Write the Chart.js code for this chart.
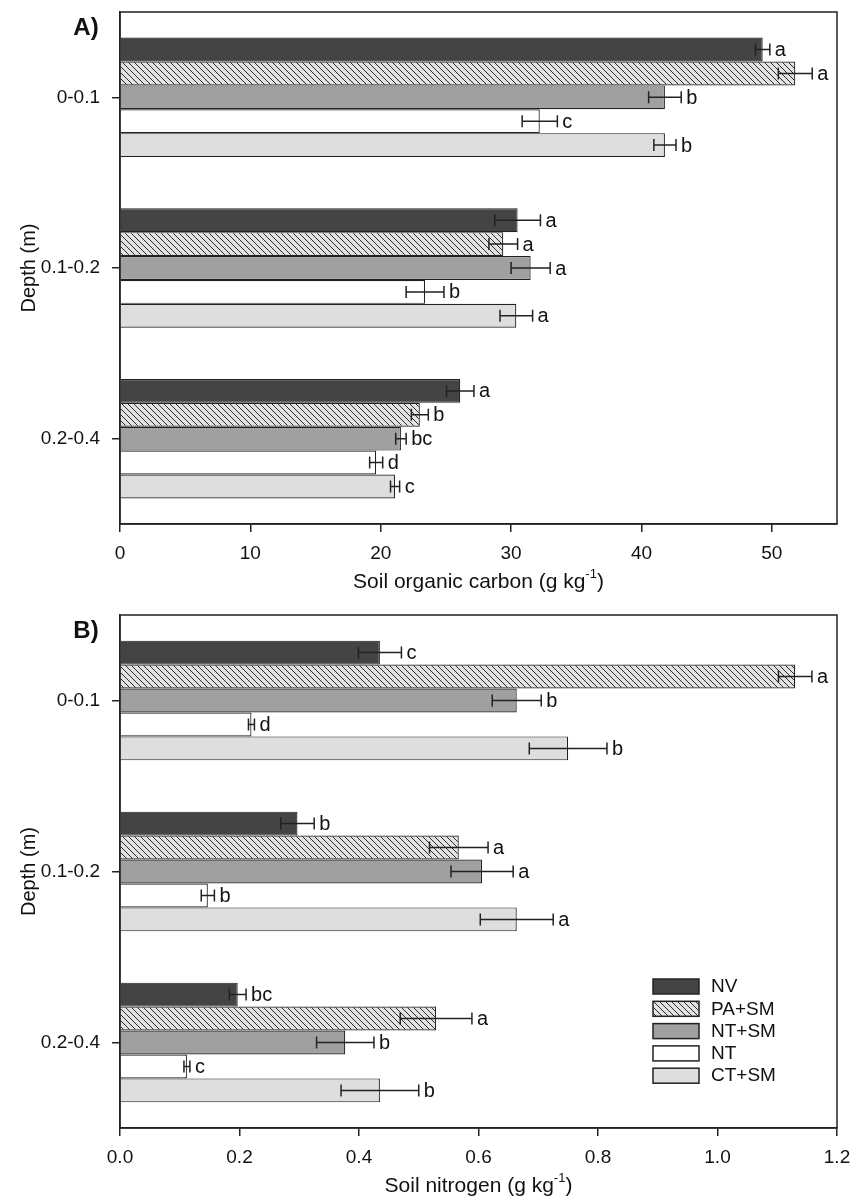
<!DOCTYPE html>
<html>
<head>
<meta charset="utf-8">
<script src="https://cdn.jsdelivr.net/npm/chart.js@4.4.1/dist/chart.umd.min.js"></script>
<style>
  body { margin: 0; background: #fff; }
  #wrap { position: relative; width: 862px; height: 1201px; }
  canvas { position: absolute; left: 0; display: block; }
</style>
</head>
<body>
<div id="wrap">
  <canvas id="chartA" width="862" height="600" style="top:0"></canvas>
  <canvas id="chartB" width="862" height="601" style="top:600px"></canvas>
</div>
<script>
const depths = ["0-0.1", "0.1-0.2", "0.2-0.4"];
const treatments = ["NV", "PA+SM", "NT+SM", "NT", "CT+SM"];

// A) soil organic carbon, g kg-1
const carbonNV = [49.3, 30.5, 26.1];
const carbonPASM = [51.8, 29.4, 23.0];
const carbonNTSM = [41.8, 31.5, 21.55];
const carbonNT = [32.2, 23.4, 19.65];
const carbonCTSM = [41.8, 30.4, 21.1];

const carbonNVErr = [0.55, 1.75, 1.05];
const carbonPASMErr = [1.3, 1.1, 0.65];
const carbonNTSMErr = [1.25, 1.5, 0.4];
const carbonNTErr = [1.35, 1.45, 0.5];
const carbonCTSMErr = [0.85, 1.25, 0.35];

const carbonNVLetters = ["a", "a", "a"];
const carbonPASMLetters = ["a", "a", "b"];
const carbonNTSMLetters = ["b", "a", "bc"];
const carbonNTLetters = ["c", "b", "d"];
const carbonCTSMLetters = ["b", "a", "c"];

// B) soil nitrogen, g kg-1
const nitrogenNV = [0.435, 0.297, 0.197];
const nitrogenPASM = [1.13, 0.567, 0.529];
const nitrogenNTSM = [0.664, 0.606, 0.377];
const nitrogenNT = [0.22, 0.147, 0.112];
const nitrogenCTSM = [0.75, 0.664, 0.435];

const nitrogenNVErr = [0.036, 0.028, 0.014];
const nitrogenPASMErr = [0.028, 0.049, 0.06];
const nitrogenNTSMErr = [0.041, 0.052, 0.048];
const nitrogenNTErr = [0.005, 0.011, 0.005];
const nitrogenCTSMErr = [0.065, 0.061, 0.065];

const nitrogenNVLetters = ["c", "b", "bc"];
const nitrogenPASMLetters = ["a", "a", "a"];
const nitrogenNTSMLetters = ["b", "a", "b"];
const nitrogenNTLetters = ["d", "b", "c"];
const nitrogenCTSMLetters = ["b", "a", "b"];

const carbonTicks = [0, 10, 20, 30, 40, 50];
const nitrogenTicks = [0, 0.2, 0.4, 0.6, 0.8, 1.0, 1.2];

const fontFamily = '"Liberation Sans", Arial, sans-serif';
const ink = "#222";

function hatchPattern() {
  const tile = document.createElement("canvas");
  tile.width = 6;
  tile.height = 6;
  const g = tile.getContext("2d");
  g.fillStyle = "#e2e2e2";
  g.fillRect(0, 0, 6, 6);
  g.strokeStyle = "#2a2a2a";
  g.lineWidth = 1;
  g.beginPath();
  g.moveTo(-1, -1); g.lineTo(7, 7);
  g.moveTo(-1, 5); g.lineTo(1, 7);
  g.moveTo(5, -1); g.lineTo(7, 1);
  g.stroke();
  return g.createPattern(tile, "repeat");
}

const fills = ["#444444", hatchPattern(), "#a0a0a0", "#ffffff", "#dedede"];

function makeDatasets(series) {
  return series.map((values, i) => ({
    label: treatments[i],
    data: values,
    backgroundColor: fills[i],
    borderColor: ink,
    borderWidth: 1.2,
    categoryPercentage: 0.7,
    barPercentage: 1.0
  }));
}

function drawUnitTitle(ctx, base, cx, cy) {
  const main = "21px " + fontFamily;
  const sup = "13px " + fontFamily;
  const part1 = base + " (g kg";
  ctx.font = main;
  const w1 = ctx.measureText(part1).width;
  const w3 = ctx.measureText(")").width;
  ctx.font = sup;
  const w2 = ctx.measureText("-1").width;
  let x = cx - (w1 + w2 + w3) / 2;
  ctx.textAlign = "left";
  ctx.textBaseline = "middle";
  ctx.font = main;
  ctx.fillText(part1, x, cy);
  x += w1;
  ctx.font = sup;
  ctx.fillText("-1", x, cy - 8);
  x += w2;
  ctx.font = main;
  ctx.fillText(")", x, cy);
}

// frame, error bars, letters, titles and legend
function makeExtras(cfg) {
  return {
    id: "extras" + cfg.panel,
    afterDatasetsDraw(chart) {
      const ctx = chart.ctx;
      const xs = chart.scales.x;
      const area = chart.chartArea;
      ctx.save();
      ctx.strokeStyle = ink;
      ctx.lineWidth = 1.5;
      ctx.strokeRect(area.left, area.top, area.right - area.left, area.bottom - area.top);

      ctx.fillStyle = "#111";
      ctx.font = "20px " + fontFamily;
      ctx.textAlign = "left";
      ctx.textBaseline = "middle";
      chart.data.datasets.forEach((ds, i) => {
        const meta = chart.getDatasetMeta(i);
        meta.data.forEach((bar, j) => {
          const v = ds.data[j];
          const e = cfg.errors[i][j];
          const x1 = xs.getPixelForValue(v - e);
          const x2 = xs.getPixelForValue(v + e);
          const y = bar.y;
          ctx.lineWidth = 1.5;
          ctx.beginPath();
          ctx.moveTo(x1, y); ctx.lineTo(x2, y);
          ctx.moveTo(x1, y - 6); ctx.lineTo(x1, y + 6);
          ctx.moveTo(x2, y - 6); ctx.lineTo(x2, y + 6);
          ctx.stroke();
          ctx.fillText(cfg.letters[i][j], x2 + 5, y + 1);
        });
      });
      ctx.restore();
    },
    afterDraw(chart) {
      const ctx = chart.ctx;
      const area = chart.chartArea;
      ctx.save();
      ctx.fillStyle = "#111";

      // panel label
      ctx.font = "bold 24px " + fontFamily;
      ctx.textAlign = "center";
      ctx.textBaseline = "middle";
      ctx.fillText(cfg.panel + ")", 86, area.top + 16);

      // y title
      ctx.save();
      ctx.translate(29, (area.top + area.bottom) / 2);
      ctx.rotate(-Math.PI / 2);
      ctx.font = "20px " + fontFamily;
      ctx.fillText("Depth (m)", 0, 0);
      ctx.restore();

      // x title
      drawUnitTitle(ctx, cfg.xTitle, (area.left + area.right) / 2, area.bottom + 58);

      if (cfg.legend) {
        const lx = area.right - 184;
        const ly = area.bottom - 149;
        ctx.font = "19px " + fontFamily;
        ctx.textAlign = "left";
        chart.data.datasets.forEach((ds, i) => {
          const y = ly + i * 22.3;
          ctx.fillStyle = ds.backgroundColor;
          ctx.fillRect(lx, y, 46, 15);
          ctx.strokeStyle = ink;
          ctx.lineWidth = 1.5;
          ctx.strokeRect(lx, y, 46, 15);
          ctx.fillStyle = "#111";
          ctx.fillText(ds.label, lx + 58, y + 8);
        });
      }
      ctx.restore();
    }
  };
}

function makeOptions(xMax, ticks, fmt, topPad, axisHeight) {
  return {
    indexAxis: "y",
    responsive: false,
    maintainAspectRatio: false,
    animation: false,
    layout: { padding: { top: topPad, right: 25, left: 0, bottom: 0 } },
    plugins: { legend: { display: false }, tooltip: { enabled: false } },
    scales: {
      x: {
        type: "linear",
        min: 0,
        max: xMax,
        afterBuildTicks(scale) {
          scale.ticks = ticks.map((v) => ({ value: v }));
        },
        afterFit(scale) {
          scale.height = axisHeight;
          scale.paddingLeft = 0;
          scale.paddingRight = 0;
        },
        ticks: {
          color: "#111",
          font: { family: fontFamily, size: 19 },
          padding: 10,
          maxRotation: 0,
          callback: fmt
        },
        grid: { drawOnChartArea: false, drawTicks: true, tickLength: 8, color: ink, lineWidth: 1.5 },
        border: { color: ink, width: 1.5 }
      },
      y: {
        type: "category",
        afterFit(scale) {
          scale.width = 120;
          scale.paddingTop = 0;
          scale.paddingBottom = 0;
        },
        ticks: { color: "#111", font: { family: fontFamily, size: 19 }, padding: 12 },
        grid: { drawOnChartArea: false, drawTicks: true, tickLength: 8, offset: false, color: ink, lineWidth: 1.5 },
        border: { color: ink, width: 1.5 }
      }
    }
  };
}

new Chart(document.getElementById("chartA"), {
  type: "bar",
  data: {
    labels: depths,
    datasets: makeDatasets([carbonNV, carbonPASM, carbonNTSM, carbonNT, carbonCTSM])
  },
  options: makeOptions(55, carbonTicks, (v) => String(v), 12, 76),
  plugins: [makeExtras({
    panel: "A",
    xTitle: "Soil organic carbon",
    errors: [carbonNVErr, carbonPASMErr, carbonNTSMErr, carbonNTErr, carbonCTSMErr],
    letters: [carbonNVLetters, carbonPASMLetters, carbonNTSMLetters, carbonNTLetters, carbonCTSMLetters],
    legend: false
  })]
});

new Chart(document.getElementById("chartB"), {
  type: "bar",
  data: {
    labels: depths,
    datasets: makeDatasets([nitrogenNV, nitrogenPASM, nitrogenNTSM, nitrogenNT, nitrogenCTSM])
  },
  options: makeOptions(1.2, nitrogenTicks, (v) => Number(v).toFixed(1), 15, 73),
  plugins: [makeExtras({
    panel: "B",
    xTitle: "Soil nitrogen",
    errors: [nitrogenNVErr, nitrogenPASMErr, nitrogenNTSMErr, nitrogenNTErr, nitrogenCTSMErr],
    letters: [nitrogenNVLetters, nitrogenPASMLetters, nitrogenNTSMLetters, nitrogenNTLetters, nitrogenCTSMLetters],
    legend: true
  })]
});
</script>
</body>
</html>
